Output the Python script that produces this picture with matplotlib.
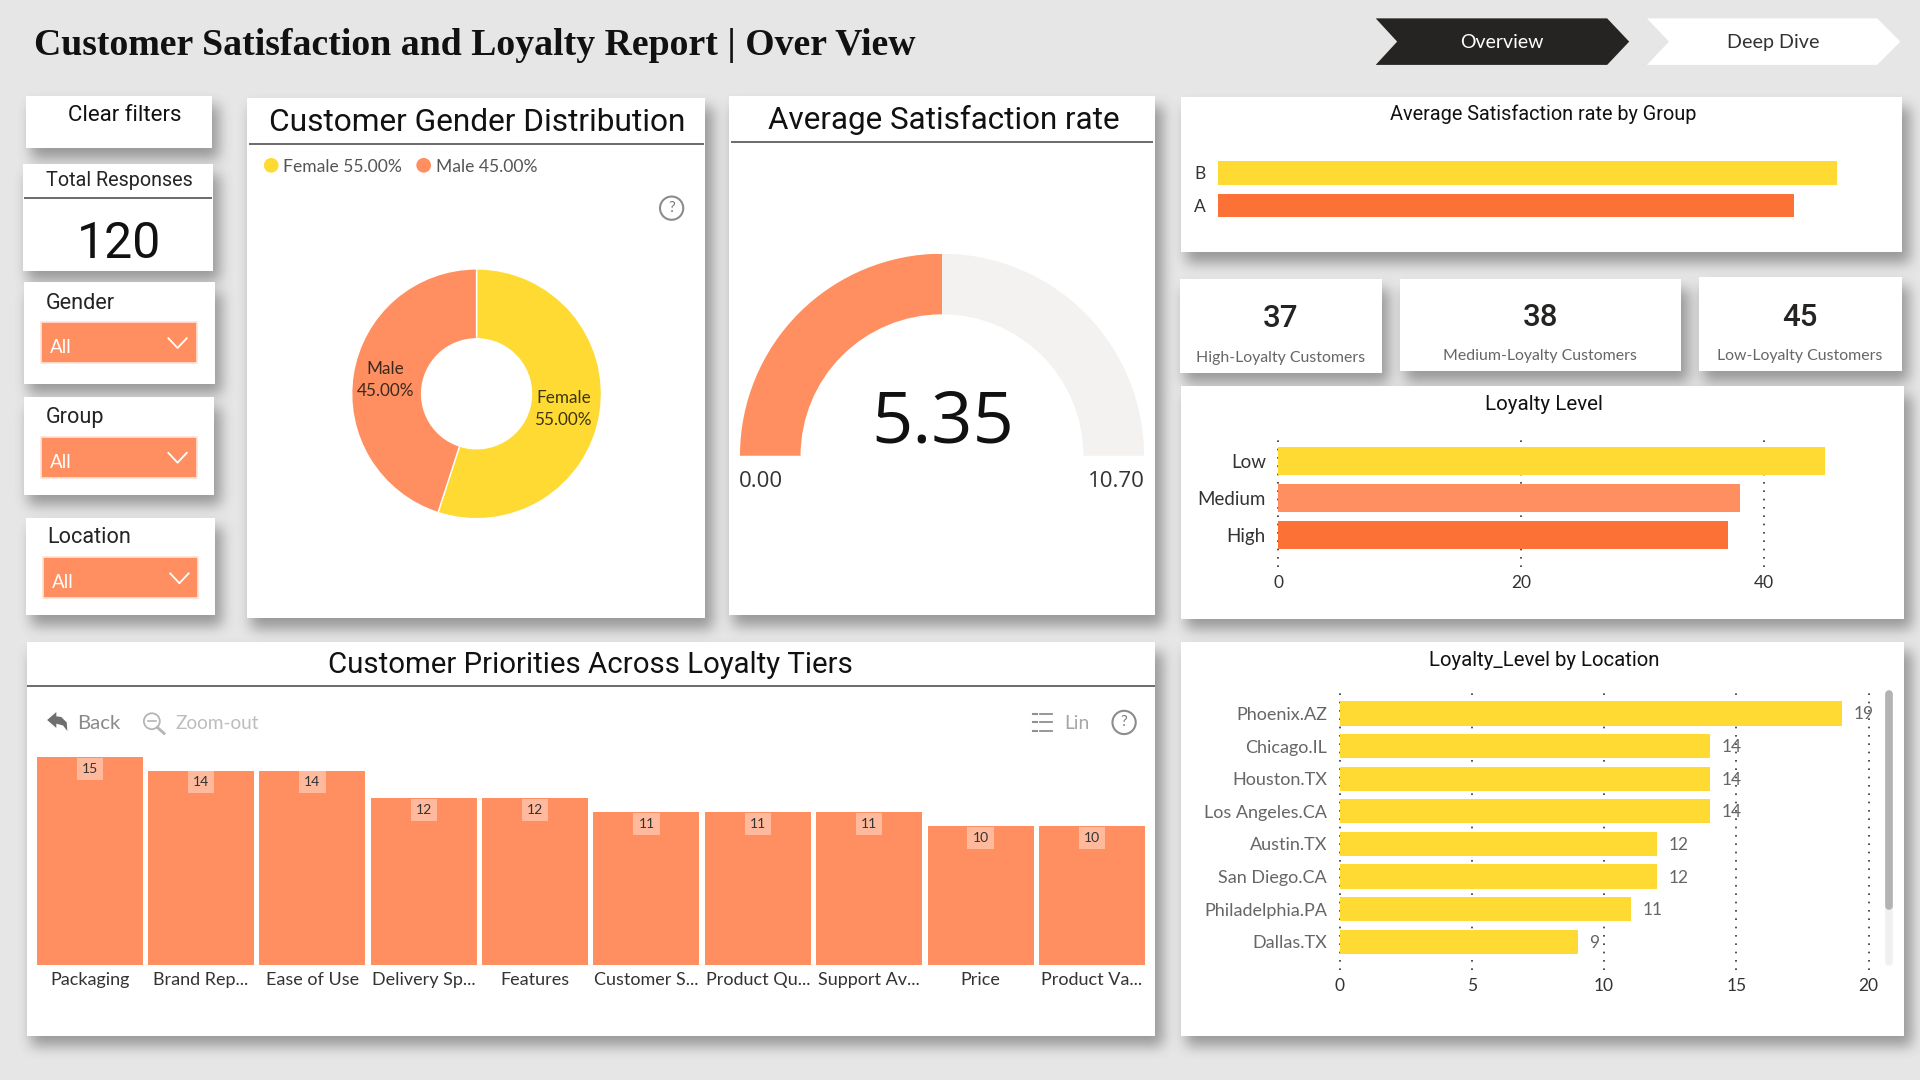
import numpy as np
import matplotlib
matplotlib.use("Agg")
import matplotlib.pyplot as plt
from matplotlib.patches import Rectangle, Polygon, Circle, Wedge

# ---------- data ----------
gender_labels = ["Female", "Male"]
gender_values = [55.0, 45.0]
satisfaction_value = 5.35
satisfaction_max = 10.70
group_labels = ["A", "B"]
group_values = [5.15, 5.53]
loyalty_labels = ["High", "Medium", "Low"]
loyalty_values = [37, 38, 45]
location_labels = ["Dallas.TX", "Philadelphia.PA", "San Diego.CA", "Austin.TX",
                   "Los Angeles.CA", "Houston.TX", "Chicago.IL", "Phoenix.AZ"]
location_values = [9, 11, 12, 12, 14, 14, 14, 19]
priority_labels = ["Packaging", "Brand Rep...", "Ease of Use", "Delivery Sp...", "Features",
                   "Customer S...", "Product Qu...", "Support Av...", "Price", "Product Va..."]
priority_values = [15, 14, 14, 12, 12, 11, 11, 11, 10, 10]
kpi_values = [37, 38, 45]
kpi_labels = ["High-Loyalty Customers", "Medium-Loyalty Customers", "Low-Loyalty Customers"]
total_responses = 120

# ---------- style ----------
BG = "#E6E6E6"
YEL = "#FEDA32"
ORG = "#FF8F60"
DEEP = "#FB7136"
W, H = 1568.0, 882.0
LAB = "Lato"
HEAD = "Roboto"
SEG = "Open Sans"

plt.rcParams["font.family"] = LAB
fig = plt.figure(figsize=(19.2, 10.8), dpi=100, facecolor=BG)
bg = fig.add_axes([0, 0, 1, 1], zorder=0)
bg.set_xlim(0, W)
bg.set_ylim(H, 0)
bg.axis("off")

panels = [
    (21.4, 78, 173, 121), (18.7, 134.3, 173.6, 221), (19.5, 230.6, 175.5, 313.3),
    (19.5, 324.3, 174.6, 404), (21.4, 422.7, 175.5, 502.4), (201.6, 80, 576, 505),
    (595, 78.6, 943.5, 502.3), (964.6, 79.5, 1553.5, 206), (963.6, 228, 1128.6, 304.4),
    (1143.5, 228, 1373, 303), (1387.5, 226, 1553, 303), (964.6, 315, 1555, 505.5),
    (21.9, 524.5, 943.5, 846), (964.6, 524, 1555, 846),
]

# soft drop shadows under the cards
def box_blur(a, r, axis):
    c = np.cumsum(np.insert(a, 0, 0, axis=axis), axis=axis)
    n = a.shape[axis]
    hi = np.clip(np.arange(n) + r + 1, 0, n)
    lo = np.clip(np.arange(n) - r, 0, n)
    return (np.take(c, hi, axis=axis) - np.take(c, lo, axis=axis)) / (2 * r + 1)

mask = np.zeros((1080, 1920))
S = 1920 / W
for x0, y0, x1, y1 in panels:
    mask[int(y0 * S) + 10:int(y1 * S) + 11, int(x0 * S) + 5:int(x1 * S) + 8] = 1
for _ in range(3):
    mask = box_blur(box_blur(mask, 6, 0), 6, 1)
shade = 0.902 * (1 - 0.34 * mask)
bg.imshow(shade, cmap="gray", vmin=0, vmax=1, extent=(0, W, H, 0), aspect="auto",
          interpolation="bilinear", zorder=0)
bg.set_xlim(0, W)
bg.set_ylim(H, 0)

for x0, y0, x1, y1 in panels:
    bg.add_patch(Rectangle((x0, y0), x1 - x0, y1 - y0, fc="white", ec="none", zorder=1))

def T(x, y, s, size, color="#111111", ha="center", family=LAB, weight="normal", **kw):
    return bg.text(x, y + 1, s, fontsize=size, color=color, ha=ha, va="center",
                   family=family, weight=weight, zorder=3, **kw)

def rule(x0, x1, y):
    bg.plot([x0, x1], [y, y], color="#5F5F5F", lw=1.3, zorder=2, solid_capstyle="butt")

def help_icon(x, y):
    bg.add_patch(Circle((x, y), 9.5, fc="none", ec="#8C8C8C", lw=1.5, zorder=3))
    T(x, y - 1, "?", 11, color="#7C7C7C")

def ax_at(x0, y0, x1, y1, **kw):
    a = fig.add_axes([x0 / W, 1 - y1 / H, (x1 - x0) / W, (y1 - y0) / H], zorder=2, **kw)
    a.patch.set_visible(False)
    for s in a.spines.values():
        s.set_visible(False)
    a.tick_params(length=0)
    return a

GRID = dict(color="#333333", ls=(0, (1, 4)), lw=1.2, clip_on=False)

# ---------- header ----------
T(28, 36, "Customer Satisfaction and Loyalty Report | Over View", 27.2, color="#111111",
  ha="left", family="Liberation Serif", weight="bold")
bg.add_patch(Polygon([(1123.5, 15), (1312.5, 15), (1330.5, 34), (1312.5, 53), (1123.5, 53), (1141, 34)],
                     fc="#252423", ec="none", zorder=2))
bg.add_patch(Polygon([(1345, 15), (1533, 15), (1552, 34), (1533, 53), (1345, 53), (1363, 34)],
                     fc="white", ec="none", zorder=2))
T(1226.5, 34, "Overview", 14, color="white")
T(1448.5, 34, "Deep Dive", 14.2, color="#333333")

# ---------- left rail ----------
T(101.5, 93, "Clear filters", 16, family=HEAD)
T(97.5, 146.5, "Total Responses", 14.2, color="#252423", family=HEAD)
rule(19.5, 173, 161.3)
T(97.5, 198.5, str(total_responses), 36, color="#111111", family=HEAD)

slicers = [("Gender", 37, 247, 33.7, 160.5, 262.7, 296.7),
           ("Group", 37, 340, 33.7, 160.5, 356.7, 390),
           ("Location", 38.5, 438, 35.2, 162, 455, 488.6)]
for name, tx, ty, x0, x1, y0, y1 in slicers:
    T(tx, ty, name, 15.6, ha="left", color="#252423", family=HEAD)
    bg.add_patch(Rectangle((x0, y0), x1 - x0, y1 - y0, fc=ORG, ec="#FFE3D6", lw=1.2, zorder=2))
    T(x0 + 7, (y0 + y1) / 2 + 3, "All", 13.5, color="white", ha="left")
    cx, cy = x1 - 15.5, (y0 + y1) / 2 + 0.5
    bg.plot([cx - 7.5, cx, cx + 7.5], [cy - 4, cy + 4, cy - 4], color="white", lw=1.3, zorder=3)

# ---------- gender donut ----------
T(390, 99, "Customer Gender Distribution", 22.8, color="#111111", family=HEAD)
rule(203, 575, 117.6)
bg.add_patch(Circle((221.5, 135), 6, fc=YEL, ec="none", zorder=3))
T(231.5, 135, gender_labels[0] + " 55.00%", 12.6, color="#555555", ha="left")
bg.add_patch(Circle((346, 135), 6, fc=ORG, ec="none", zorder=3))
T(356, 135, gender_labels[1] + " 45.00%", 12.6, color="#555555", ha="left")
help_icon(548.5, 170)

ax = ax_at(287.2, 219.6, 491.2, 423.6)
ax.pie(gender_values, colors=[YEL, ORG], startangle=90, counterclock=False, radius=1,
       wedgeprops=dict(width=0.56, edgecolor="white", linewidth=1))
ax.set_xlim(-1, 1)
ax.set_ylim(-1, 1)
for tx, ty, lab, val, col in [(460, 334, gender_labels[0], gender_values[0], "#3E3510"),
                              (314.5, 310.5, gender_labels[1], gender_values[1], "#3A2A20")]:
    ax.text(tx, ty, f"{lab}\n{val:.2f}%", transform=bg.transData, fontsize=12.3, color=col,
            ha="center", va="center", linespacing=1.5, clip_on=False, zorder=5)

# ---------- gauge ----------
T(771, 97, "Average Satisfaction rate", 22.6, color="#111111", family=HEAD)
rule(597, 942, 116)
ax = ax_at(604.3, 207.2, 934.3, 372.2)
ax.set_xlim(-1, 1)
ax.set_ylim(0, 1)
ax.axis("off")
split = 180 * (1 - satisfaction_value / satisfaction_max)
ax.add_patch(Wedge((0, 0), 1, split, 180, width=0.3, fc=ORG, ec="none"))
ax.add_patch(Wedge((0, 0), 1, 0, split, width=0.3, fc="#F3F2F1", ec="none"))
T(770, 345, f"{satisfaction_value:.2f}", 52, color="#111111", family=SEG)
T(603.5, 392, "0.00", 16, color="#333333", ha="left", family=SEG)
T(935, 392, f"{satisfaction_max:.2f}", 16, color="#333333", ha="right", family=SEG)

# ---------- group bars ----------
T(1260, 92.5, "Average Satisfaction rate by Group", 14.3, color="#111111", family=HEAD)
ax = ax_at(995, 128, 1543, 181)
ax.barh(group_labels, group_values, height=0.72, color=[DEEP, YEL])
ax.set_xlim(0, 6)
ax.set_ylim(-0.5, 1.5)
ax.set_xticks([])
ax.tick_params(axis="y", labelsize=12.5, labelcolor="#333333", pad=9)

# ---------- KPI cards ----------
for cx, ny, ly, v, lab in zip([1046, 1258, 1470], [259.5, 258.5, 258.5], [291, 290, 290], kpi_values, kpi_labels):
    T(cx, ny, str(v), 22.5, color="#252423", family=HEAD, weight="medium")
    T(cx, ly, lab, 11.4, color="#666666")

# ---------- loyalty level ----------
T(1261, 329, "Loyalty Level", 14.8, color="#111111", family=HEAD)
ax = ax_at(1044, 356, 1495, 463)
ax.barh(loyalty_labels, loyalty_values, height=0.77, color=[DEEP, ORG, YEL], zorder=3)
ax.set_xlim(0, 45.46)
ax.set_ylim(-0.86, 2.68)
ax.set_xticks([0, 20, 40])
ax.grid(axis="x", zorder=1, **GRID)
ax.tick_params(axis="x", labelsize=12.5, labelcolor="#333333", pad=5.7)
ax.tick_params(axis="y", labelsize=13.5, labelcolor="#333333", pad=9)

# ---------- priorities ----------
T(482, 542, "Customer Priorities Across Loyalty Tiers", 21.2, color="#111111", family=HEAD)
rule(22, 943, 560)
bg.add_patch(Polygon([(38.5, 588), (46, 581.5), (46, 585), (50, 585.5), (54.5, 590), (55, 597),
                      (51.5, 592.5), (46, 591), (46, 594.5)], fc="#6F6F6F", ec="none", zorder=3))
T(63, 590, "Back", 14.6, color="#8A8A8A", ha="left")
bg.add_patch(Circle((124, 589), 6.5, fc="none", ec="#B5B5B5", lw=1.3, zorder=3))
bg.plot([120.5, 127.5], [589, 589], color="#B5B5B5", lw=1.2, zorder=3)
bg.plot([128.5, 134], [594, 599], color="#B5B5B5", lw=2, zorder=3)
T(143, 590, "Zoom-out", 13.7, color="#BDBDBD", ha="left")
for yy in [583, 590, 597]:
    bg.plot([844, 846.5], [yy, yy], color="#8F8F8F", lw=1.5, zorder=3)
    bg.plot([849, 859.5], [yy, yy], color="#8F8F8F", lw=1.3, zorder=3)
T(869, 590, "Lin", 13.8, color="#A6A6A6", ha="left")
help_icon(918, 590)

ax = ax_at(30, 618, 935, 788)
xpos = np.arange(len(priority_values))
ax.bar(xpos, priority_values, width=0.952, color=ORG)
ax.set_xlim(-0.476, len(priority_values) - 1 + 0.476)
ax.set_ylim(0, 15)
ax.set_yticks([])
ax.set_xticks(xpos, priority_labels)
ax.tick_params(axis="x", labelsize=13, labelcolor="#333333", pad=5)
for x, v in zip(xpos, priority_values):
    ax.annotate(str(v), (x, v), xytext=(0, -4.2), textcoords="offset points", ha="center", va="top",
                fontsize=10, color="#333333",
                bbox=dict(boxstyle="square,pad=0.36", fc="white", ec="none", alpha=0.38))

# ---------- location ----------
T(1261, 538, "Loyalty_Level by Location", 14.7, color="#111111", family=HEAD)
ax = ax_at(1094, 562.7, 1526, 792)
ypos = np.arange(len(location_values))
ax.barh(ypos, location_values, height=0.74, color=YEL, zorder=3)
ax.set_xlim(0, 20)
ax.set_ylim(-0.86, 7.75)
ax.set_xticks([0, 5, 10, 15, 20])
ax.set_yticks(ypos, location_labels)
ax.grid(axis="x", zorder=1, **GRID)
ax.tick_params(axis="x", labelsize=12.5, labelcolor="#333333", pad=5.7)
ax.tick_params(axis="y", labelsize=13, labelcolor="#666666", pad=9)
for y, v in zip(ypos, location_values):
    ax.annotate(str(v), (v, y), xytext=(8.5, -0.7), textcoords="offset points", ha="left", va="center",
                fontsize=12.5, color="#666666", zorder=4)
bg.plot([1542.6, 1542.6], [567, 786], color="#F0F0F0", lw=5.5, solid_capstyle="round", zorder=2)
bg.plot([1542.6, 1542.6], [567, 740], color="#B3B3B3", lw=5.5, solid_capstyle="round", zorder=3)

fig.savefig("out.png", dpi=100, facecolor=BG)
